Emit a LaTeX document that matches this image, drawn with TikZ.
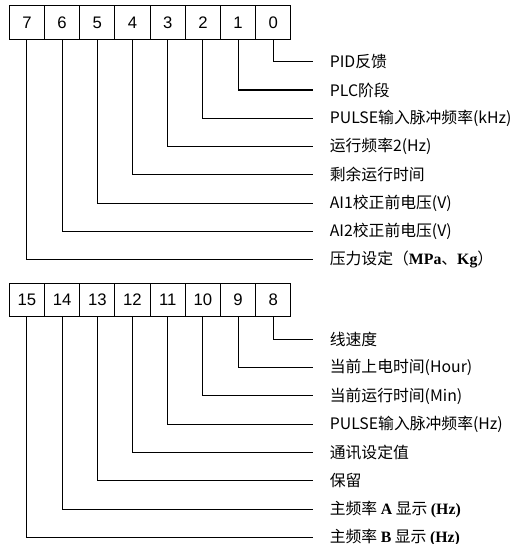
\documentclass[tikz,border=0pt]{standalone}
\usepackage{fontspec}
\setmainfont{Noto Sans CJK SC}
\newfontfamily\numfont{Liberation Sans}
\newfontfamily\latinserif{Liberation Serif}
\newcommand{\serifbold}[1]{{\latinserif\bfseries #1}}
\usetikzlibrary{positioning}

\begin{document}
\begin{tikzpicture}[x=0.02cm, y=-0.02cm,
    bitbox/.style={draw, line width=0.6pt, minimum width=0.704cm, minimum height=0.666cm,
        inner sep=0pt, font=\numfont\fontsize{9.5}{11}\selectfont},
    desc/.style={anchor=west, inner xsep=0.33cm, inner ysep=0pt, font=\fontsize{9}{11}\selectfont},
    wire/.style={line width=0.6pt}]
    \useasboundingbox (0,0) rectangle (512,544);

    % Low byte: bits 0 to 7
    \foreach \b/\txt in {0/PID反馈, 1/PLC阶段, 2/PULSE输入脉冲频率(kHz), 3/运行频率2(Hz),
        4/剩余运行时间, 5/AI1校正前电压(V), 6/AI2校正前电压(V),
        7/{压力设定（\serifbold{MPa}、\serifbold{Kg}）}} {
        \node[bitbox] (b\b) at ({273.3-35.2*\b}, 22.5) {\b};
        \node[desc] (l\b) at (313, {61.7+28.3*\b}) {\txt};
        \draw[wire] (b\b.south) |- (l\b.west);
    }

    % High byte: bits 8 to 15
    \foreach \b/\txt in {8/线速度, 9/当前上电时间(Hour), 10/当前运行时间(Min),
        11/PULSE输入脉冲频率(Hz), 12/通讯设定值, 13/保留,
        14/{主频率 \serifbold{A} 显示 \serifbold{(Hz)}}, 15/{主频率 \serifbold{B} 显示 \serifbold{(Hz)}}} {
        \node[bitbox] (b\b) at ({273.3-35.2*(\b-8)}, 300) {\b};
        \node[desc] (l\b) at (313, {339.3+28.3*(\b-8)}) {\txt};
        \draw[wire] (b\b.south) |- (l\b.west);
    }
\end{tikzpicture}
\end{document}
